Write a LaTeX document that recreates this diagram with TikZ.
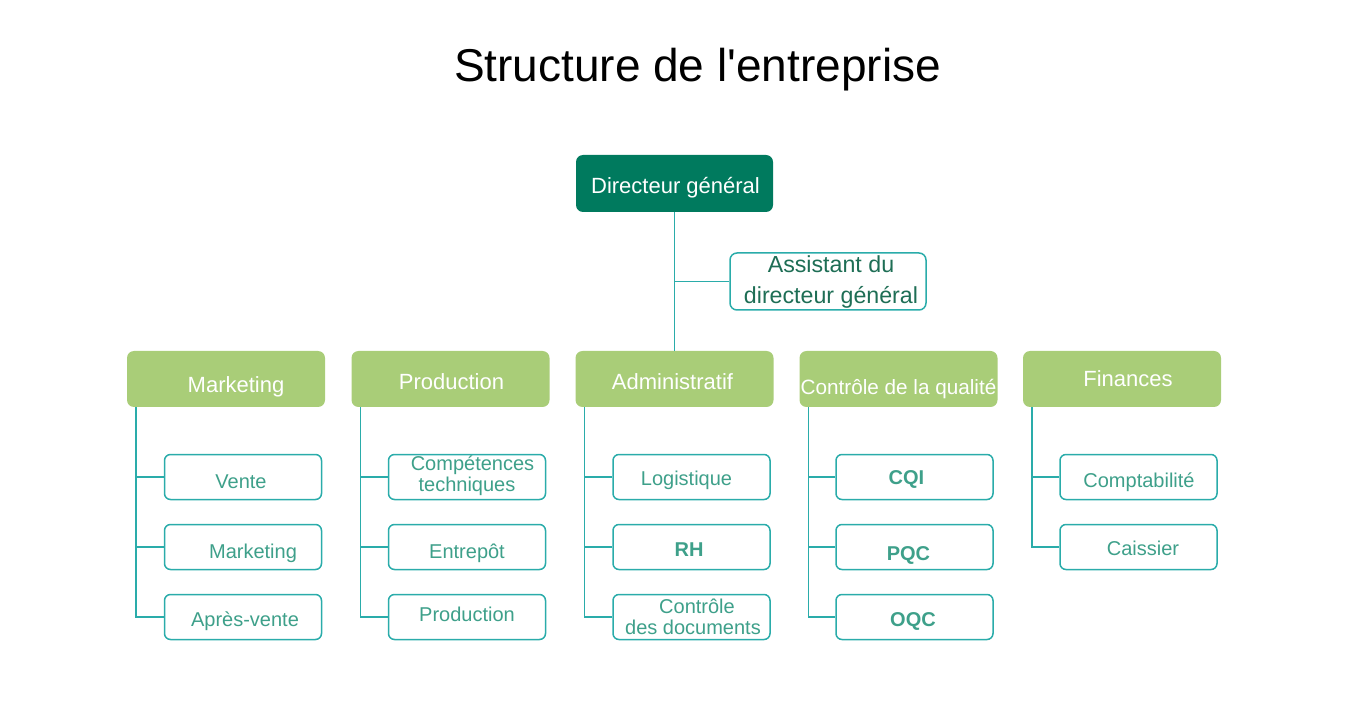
\documentclass[tikz,border=0pt]{standalone}
\usepackage{fontspec}
\setmainfont{Liberation Sans}
\newfontfamily\titlefont{Liberation Sans}[Ligatures=TeXOff]
\definecolor{dkgreen}{RGB}{0,122,94}
\definecolor{ltgreen}{RGB}{169,205,120}
\definecolor{tealline}{RGB}{42,172,170}
\definecolor{subtext}{RGB}{62,160,138}
\definecolor{asttext}{RGB}{30,110,85}
% \bl{down}{right}{text}: put the (last) baseline 'down' below the node centre, shifted 'right'
\newcommand{\bl}[3]{\raisebox{-#1pt}[0pt][0pt]{\hspace*{#2pt}\hspace*{#2pt}#3}}
\newcommand{\twol}[3]{\begin{tabular}[b]{@{}c@{}}\hspace*{#1pt}#2\\#3\end{tabular}}
\tikzset{
  topbox/.style={fill=dkgreen, rounded corners=7pt, text=white, minimum width=197pt, minimum height=57pt, inner sep=0pt, font=\fontsize{22}{24}\selectfont},
  headbox/.style={fill=ltgreen, rounded corners=7pt, text=white, minimum width=198pt, minimum height=56pt, inner sep=0pt, font=\fontsize{22}{24}\selectfont},
  subbox/.style={draw=tealline, line width=1.5pt, fill=white, rounded corners=6pt, text=subtext, minimum width=157pt, minimum height=45pt, inner sep=0pt, font=\fontsize{20}{19}\selectfont},
  boldsub/.style={subbox, font=\fontsize{20}{22}\selectfont\bfseries},
  astbox/.style={draw=tealline, line width=1.5pt, fill=white, rounded corners=7pt, text=asttext, minimum width=196pt, minimum height=57pt, inner sep=0pt, font=\fontsize{23.2}{30.6}\selectfont},
  link/.style={draw=tealline, line width=1.5pt},
  titlestyle/.style={font=\titlefont\fontsize{46}{50}\selectfont, text=black, inner sep=0pt}
}
\begin{document}
\begin{tikzpicture}[x=1pt,y=-1pt]
\useasboundingbox (0,0) rectangle (1361,719);
\node[titlestyle] (title) at (697.5,82) {\bl{0}{0}{Structure de l'entreprise}};

\node[topbox] (dg) at (674.5,183.5) {\bl{9.8}{1}{Directeur général}};
\node[astbox] (ast) at (828,281.5) {\bl{21.8}{3}{{\renewcommand\arraystretch{1}\twol{0}{Assistant du}{directeur général}}}};

% heads
\node[headbox] (mk) at (226,379) {\bl{14}{10}{Marketing}};
\node[headbox] (pr) at (450.5,379) {\bl{11}{1}{Production}};
\node[headbox] (ad) at (674.5,379) {\bl{11}{-2}{Administratif}};
\node[headbox, font=\fontsize{20.7}{22}\selectfont] (qc) at (898.5,379) {\bl{16}{0}{Contrôle de la qualité}};
\node[headbox] (fi) at (1122,379) {\bl{7.7}{6}{Finances}};

\draw[link] (dg.south) -- (ad.north);
\draw[link] (ast.west) -- (ast.west -| dg.south);

% Marketing
\node[subbox] (mk1) at (243,477) {\bl{11}{-2}{Vente}};
\node[subbox] (mk2) at (243,547) {\bl{11}{10}{Marketing}};
\node[subbox] (mk3) at (243,617) {\bl{9.7}{2}{Après-vente}};
% Production
\node[subbox, font=\fontsize{20}{21.7}\selectfont] (pr1) at (467,477) {\bl{14.7}{0}{\twol{11}{Compétences}{techniques}}};
\node[subbox] (pr2) at (467,547) {\bl{11.3}{0}{Entrepôt}};
\node[subbox] (pr3) at (467,617) {\bl{4.7}{0}{Production}};
% Administratif
\node[subbox] (ad1) at (691.5,477) {\bl{8}{-5}{Logistique}};
\node[boldsub] (ad2) at (691.5,547) {\bl{9}{-2.5}{RH}};
\node[subbox] (ad3) at (691.5,617) {\bl{17}{1.5}{\twol{8}{Contrôle}{des documents}}};
% QC
\node[boldsub] (qc1) at (914.5,477) {\bl{7}{-8}{CQI}};
\node[boldsub] (qc2) at (914.5,547) {\bl{13.7}{-6}{PQC}};
\node[boldsub] (qc3) at (914.5,617) {\bl{9.7}{-1.5}{OQC}};
% Finances
\node[subbox] (fi1) at (1138.5,477) {\bl{10.3}{0.5}{Comptabilité}};
\node[subbox] (fi2) at (1138.5,547) {\bl{8}{4.5}{Caissier}};

\foreach \h in {mk,pr,ad,qc}{
  \coordinate (\h L) at ([xshift=9pt]\h.south west);
  \draw[link] (\h L) |- (\h3.west);
  \draw[link] (\h L |- \h1.west) -- (\h1.west);
  \draw[link] (\h L |- \h2.west) -- (\h2.west);
}
\coordinate (fiL) at ([xshift=9pt]fi.south west);
\draw[link] (fiL) |- (fi2.west);
\draw[link] (fiL |- fi1.west) -- (fi1.west);
\end{tikzpicture}
\end{document}
